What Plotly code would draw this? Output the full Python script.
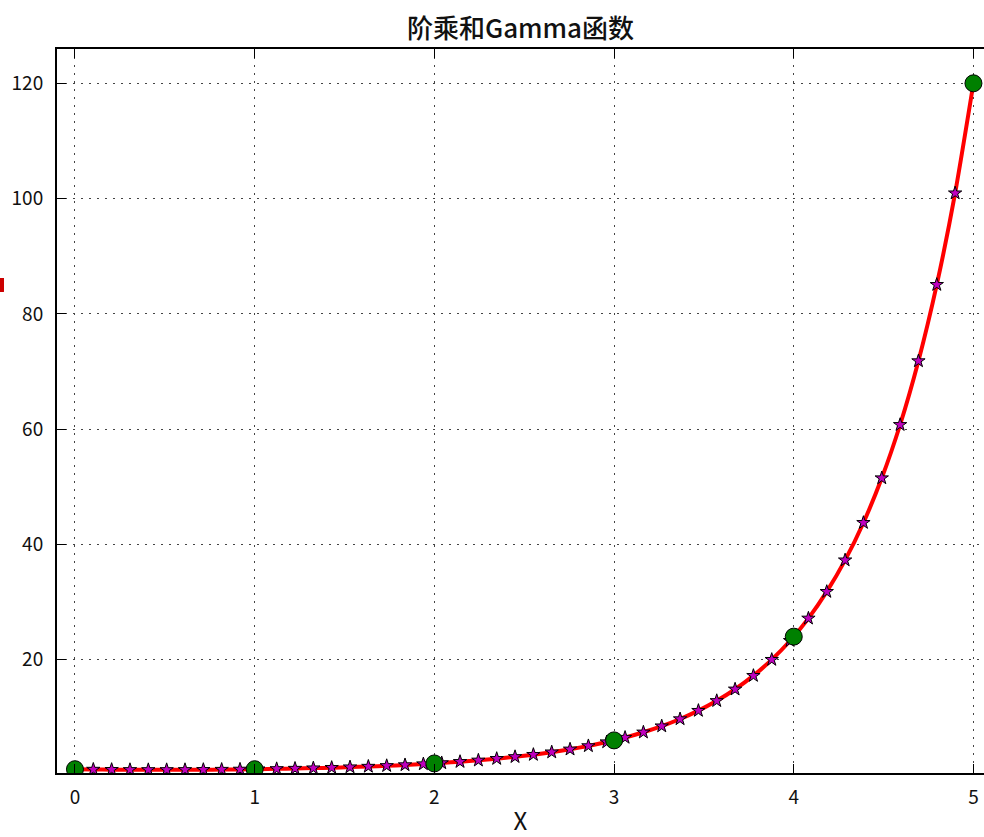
import plotly.graph_objects as go

# factorial points
fact_x = [0, 1, 2, 3, 4, 5]
fact_y = [1, 1, 2, 6, 24, 120]

gamma_x = [0.0, 0.10204, 0.20408, 0.30612, 0.40816, 0.5102, 0.61224, 0.71429, 0.81633, 0.91837,
           1.02041, 1.12245, 1.22449, 1.32653, 1.42857, 1.53061, 1.63265, 1.73469, 1.83673, 1.93878,
           2.04082, 2.14286, 2.2449, 2.34694, 2.44898, 2.55102, 2.65306, 2.7551, 2.85714, 2.95918,
           3.06122, 3.16327, 3.26531, 3.36735, 3.46939, 3.57143, 3.67347, 3.77551, 3.87755, 3.97959,
           4.08163, 4.18367, 4.28571, 4.38776, 4.4898, 4.59184, 4.69388, 4.79592, 4.89796, 5.0]
gamma_y = [1.0, 0.9507, 0.9174, 0.8969, 0.8872, 0.8869, 0.8953, 0.9119, 0.9364, 0.9688,
           1.0088, 1.0595, 1.1181, 1.1870, 1.2671, 1.3598, 1.4668, 1.5898, 1.7313, 1.8934,
           2.0776, 2.2952, 2.5401, 2.8220, 3.1468, 3.5211, 3.9537, 4.4545, 5.0345, 5.7072,
           6.4846, 7.4062, 8.4675, 9.7076, 11.160, 12.864, 14.867, 17.225, 20.007, 23.29,
           27.173, 31.797, 37.265, 43.764, 51.51, 60.76, 71.82, 85.06, 100.94, 120.0]

x_ticks = [0, 1, 2, 3, 4, 5]
y_ticks = [20, 40, 60, 80, 100, 120]

title_text = "阶乘和Gamma函数"
x_label = "X"

tick_font = dict(family="Noto Sans CJK SC", size=19, color="#111111")

fig = go.Figure()

fig.add_trace(go.Scatter(
    x=gamma_x, y=gamma_y, mode="lines",
    line=dict(color="#ff0000", width=4, shape="spline", smoothing=0.6),
    showlegend=False, hoverinfo="skip"))

fig.add_trace(go.Scatter(
    x=gamma_x, y=gamma_y, mode="markers",
    marker=dict(symbol="star", size=10, color="#bf00bf", line=dict(color="#000000", width=1)),
    showlegend=False))

fig.add_trace(go.Scatter(
    x=fact_x, y=fact_y, mode="markers",
    marker=dict(symbol="circle", size=17, color="#008000", line=dict(color="#000000", width=1)),
    showlegend=False))

# small red mark at the left edge of the image
fig.add_shape(type="rect", xref="paper", yref="paper",
              x0=-0.0615, x1=-0.0572, y0=0.6644, y1=0.6837,
              fillcolor="#cc0000", line=dict(width=0))

grid_common = dict(showgrid=True, gridcolor="#444444", gridwidth=1, griddash="2px,6px",
                   zeroline=False, showline=True, linecolor="#000000", linewidth=2,
                   ticks="inside", ticklen=9, tickwidth=1, tickcolor="#000000",
                   tickfont=tick_font, automargin=False)

fig.update_xaxes(range=[-0.1, 5.0587], tickmode="array", tickvals=x_ticks,
                 ticktext=[str(v) for v in x_ticks], mirror="ticks",
                 title=dict(text=x_label, font=dict(family="Noto Sans CJK SC", size=24, color="#111111"), standoff=5),
                 ticklabelstandoff=6, **grid_common)
fig.update_yaxes(range=[0.34, 125.95], tickmode="array", tickvals=y_ticks,
                 ticktext=[str(v) for v in y_ticks], mirror=False,
                 ticklabelstandoff=8, **grid_common)

fig.update_layout(
    width=984, height=837,
    margin=dict(l=57, r=0, t=49, b=64, autoexpand=False),
    paper_bgcolor="#ffffff", plot_bgcolor="#ffffff",
    title=dict(text=title_text, x=0.5, xref="paper", y=0.966, yanchor="middle",
               font=dict(family="Noto Sans CJK SC", size=26, color="#111111", weight=500)),
)

fig.write_html("out.html", config={"displayModeBar": False},
               post_script="document.body.style.margin='0';document.body.style.overflow='hidden';")
